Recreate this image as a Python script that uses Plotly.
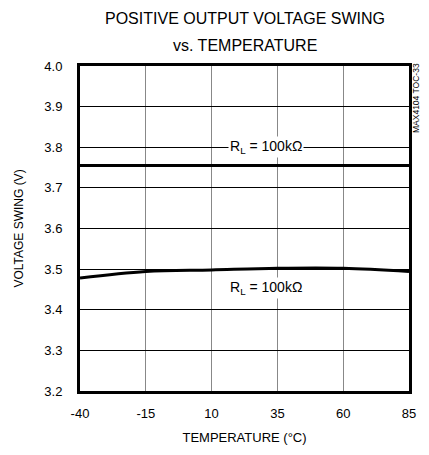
import plotly.graph_objects as go

# Data
temps = [-40, -15, 10, 35, 60, 85]
swing_upper = [3.755, 3.755, 3.755, 3.755, 3.755, 3.755]
swing_lower = [3.478, 3.494, 3.498, 3.502, 3.502, 3.494]
x_ticks = [-40, -15, 10, 35, 60, 85]
x_tick_text = ["-40", "-15", "10", "35", "60", "85"]
y_ticks = [3.2, 3.3, 3.4, 3.5, 3.6, 3.7, 3.8, 3.9, 4.0]
title_lines = ["POSITIVE OUTPUT VOLTAGE SWING", "vs. TEMPERATURE"]
curve_labels = ["R<sub>L</sub> = 100kΩ", "R<sub>L</sub> = 100kΩ"]
label_pos = [(30.5, 3.8), (30.5, 3.4535)]
code_text = "MAX4104 TOC-33"

SANS = "Liberation Sans, Arial, sans-serif"

fig = go.Figure()
fig.add_trace(go.Scatter(x=temps, y=swing_upper, mode="lines",
                         line=dict(color="black", width=3), showlegend=False))
fig.add_trace(go.Scatter(x=temps, y=swing_lower, mode="lines", line_shape="spline",
                         line=dict(color="black", width=3), showlegend=False))

for txt, (lx, ly) in zip(curve_labels, label_pos):
    fig.add_annotation(x=lx, y=ly, text=txt, showarrow=False, bgcolor="white",
                       font=dict(family=SANS, size=14, color="black"),
                       xref="x", yref="y", borderpad=1)

fig.add_annotation(x=0.5, y=1.0, xref="paper", yref="paper",
                   text=title_lines[0], showarrow=False, yanchor="middle",
                   yshift=48, font=dict(family=SANS, size=16, color="black"))
fig.add_annotation(x=0.5, y=1.0, xref="paper", yref="paper",
                   text=title_lines[1], showarrow=False, yanchor="middle",
                   yshift=21, font=dict(family=SANS, size=16, color="black"))

fig.add_annotation(x=1.0, y=1.0, xref="paper", yref="paper", text=code_text,
                   showarrow=False, textangle=-90, xanchor="left", yanchor="top",
                   xshift=1, yshift=4, borderpad=0,
                   font=dict(family=SANS, size=8.5, color="black"))

fig.update_xaxes(range=[-40, 85], tickvals=x_ticks, ticktext=x_tick_text, showgrid=True,
                 gridcolor="#888888", gridwidth=1, showline=True, linecolor="black",
                 linewidth=3, mirror=True, automargin=False, ticklabelstandoff=8,
                 zeroline=False, ticks="", tickfont=dict(family=SANS, size=13, color="black"),
                 title=dict(text="TEMPERATURE (°C)", font=dict(family=SANS, size=13, color="black"),
                            standoff=14))
fig.update_yaxes(range=[3.2, 4.0], tickvals=y_ticks, tickformat=".1f", showgrid=True,
                 gridcolor="black", gridwidth=1, showline=True, linecolor="black", linewidth=3,
                 mirror=True, zeroline=False, ticks="", ticklabelstandoff=12, automargin=False,
                 tickfont=dict(family=SANS, size=13, color="black"),
                 title=dict(text="VOLTAGE SWING (V)", font=dict(family=SANS, size=12, color="black"),
                            standoff=19))

# page body has an 8px default margin, so the figure is sized to fit inside it
fig.update_layout(width=421, height=447, margin=dict(l=72, r=20, t=58, b=64),
                  plot_bgcolor="white", paper_bgcolor="white", showlegend=False)

fig.write_html("out.html")
